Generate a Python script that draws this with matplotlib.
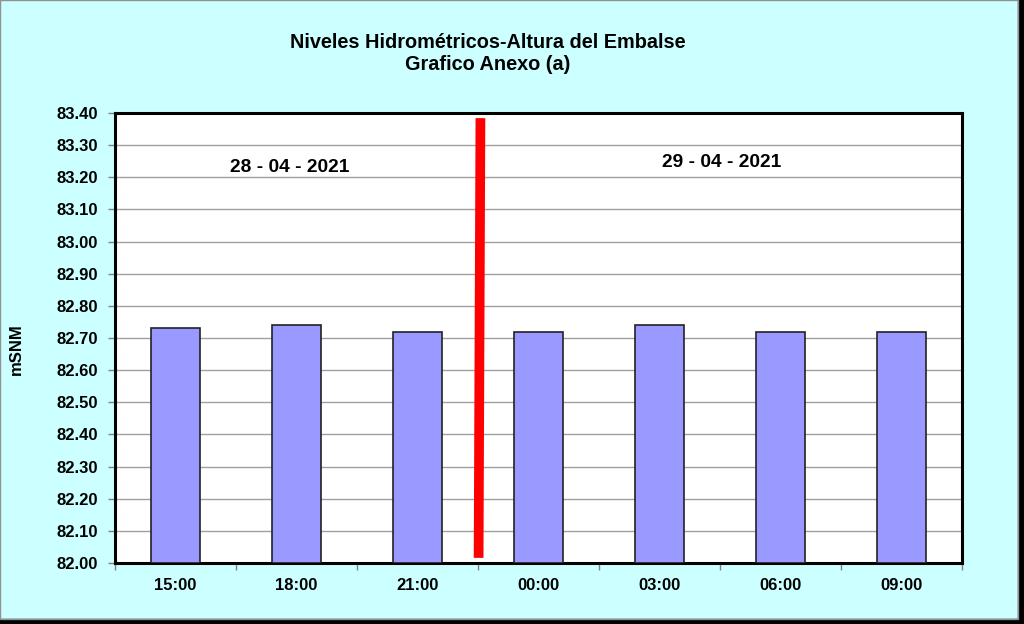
import matplotlib.pyplot as plt
import matplotlib.patches as mpatches
import numpy as np

plt.rcParams['font.family'] = ['Liberation Sans', 'DejaVu Sans']

# Chart data
hours = ['15:00', '18:00', '21:00', '00:00', '03:00', '06:00', '09:00']
levels = [82.73, 82.74, 82.72, 82.72, 82.74, 82.72, 82.72]
y_ticks = [82.00, 82.10, 82.20, 82.30, 82.40, 82.50, 82.60, 82.70,
           82.80, 82.90, 83.00, 83.10, 83.20, 83.30, 83.40]
day_labels = ['28 - 04 - 2021', '29 - 04 - 2021']
day_label_pos = [(0.94, 83.232), (4.51, 83.247)]
divider_x = [2.52, 2.505]
divider_y = [83.384, 82.016]

bg = '#CCFFFF'
fig = plt.figure(figsize=(10.24, 6.24), dpi=100)
fig.patch.set_facecolor(bg)

# frame with shadow on right and bottom
fig.patches.append(mpatches.Rectangle((1018 / 1024, 0), 6 / 1024, 1,
                                      transform=fig.transFigure, color='black', zorder=0))
fig.patches.append(mpatches.Rectangle((0, 0), 1, 5 / 624,
                                      transform=fig.transFigure, color='black', zorder=0))
fig.patches.append(mpatches.Rectangle((0, 5 / 624), 1018 / 1024, 1 - 5 / 624,
                                      transform=fig.transFigure, fill=False,
                                      edgecolor='#909090', linewidth=1, zorder=1))

ax = fig.add_axes([115 / 1024, 1 - 563 / 624, 847 / 1024, 450 / 624])
ax.set_facecolor('white')

x = np.arange(len(hours))
ax.bar(x, [v - y_ticks[0] for v in levels], bottom=y_ticks[0], width=0.4,
       color='#9999FF', edgecolor='#222222', linewidth=1.2, zorder=3)

ax.set_xlim(-0.5, len(hours) - 0.5)
ax.set_ylim(y_ticks[0], y_ticks[-1])
ax.set_yticks(y_ticks)
ax.set_yticklabels([f'{t:.2f}' for t in y_ticks], fontsize=12, fontweight='bold')
ax.set_xticks(x)
ax.set_xticklabels(hours, fontsize=12, fontweight='bold')
ax.set_xticks(np.arange(-0.5, len(hours)), minor=True)
ax.tick_params(axis='x', which='major', length=0, pad=11)
ax.tick_params(axis='x', which='minor', length=5, color='#808080', width=1)
ax.tick_params(axis='y', length=5, width=1, color='#808080', pad=7)

ax.grid(axis='y', color='#A0A0A0', linewidth=1, zorder=0)
for s in ax.spines.values():
    s.set_linewidth(2.2)
    s.set_color('black')

ax.set_ylabel('mSNM', fontsize=12, fontweight='bold')
ax.yaxis.set_label_coords(-0.108, 0.475)

# day separator
ax.plot(divider_x, divider_y, color='#FF0000', linewidth=7, solid_capstyle='butt', zorder=4)

for lab, (lx, ly) in zip(day_labels, day_label_pos):
    ax.text(lx, ly, lab, ha='center', va='center', fontsize=13.8, fontweight='bold', zorder=5)

fig.text(488 / 1024, 1 - 43 / 624, 'Niveles Hidrométricos-Altura del Embalse',
         ha='center', va='center', fontsize=14.3, fontweight='bold')
fig.text(488 / 1024, 1 - 64 / 624, 'Grafico Anexo (a)',
         ha='center', va='center', fontsize=14.3, fontweight='bold')

fig.savefig('out.png', dpi=100, facecolor=fig.get_facecolor())
